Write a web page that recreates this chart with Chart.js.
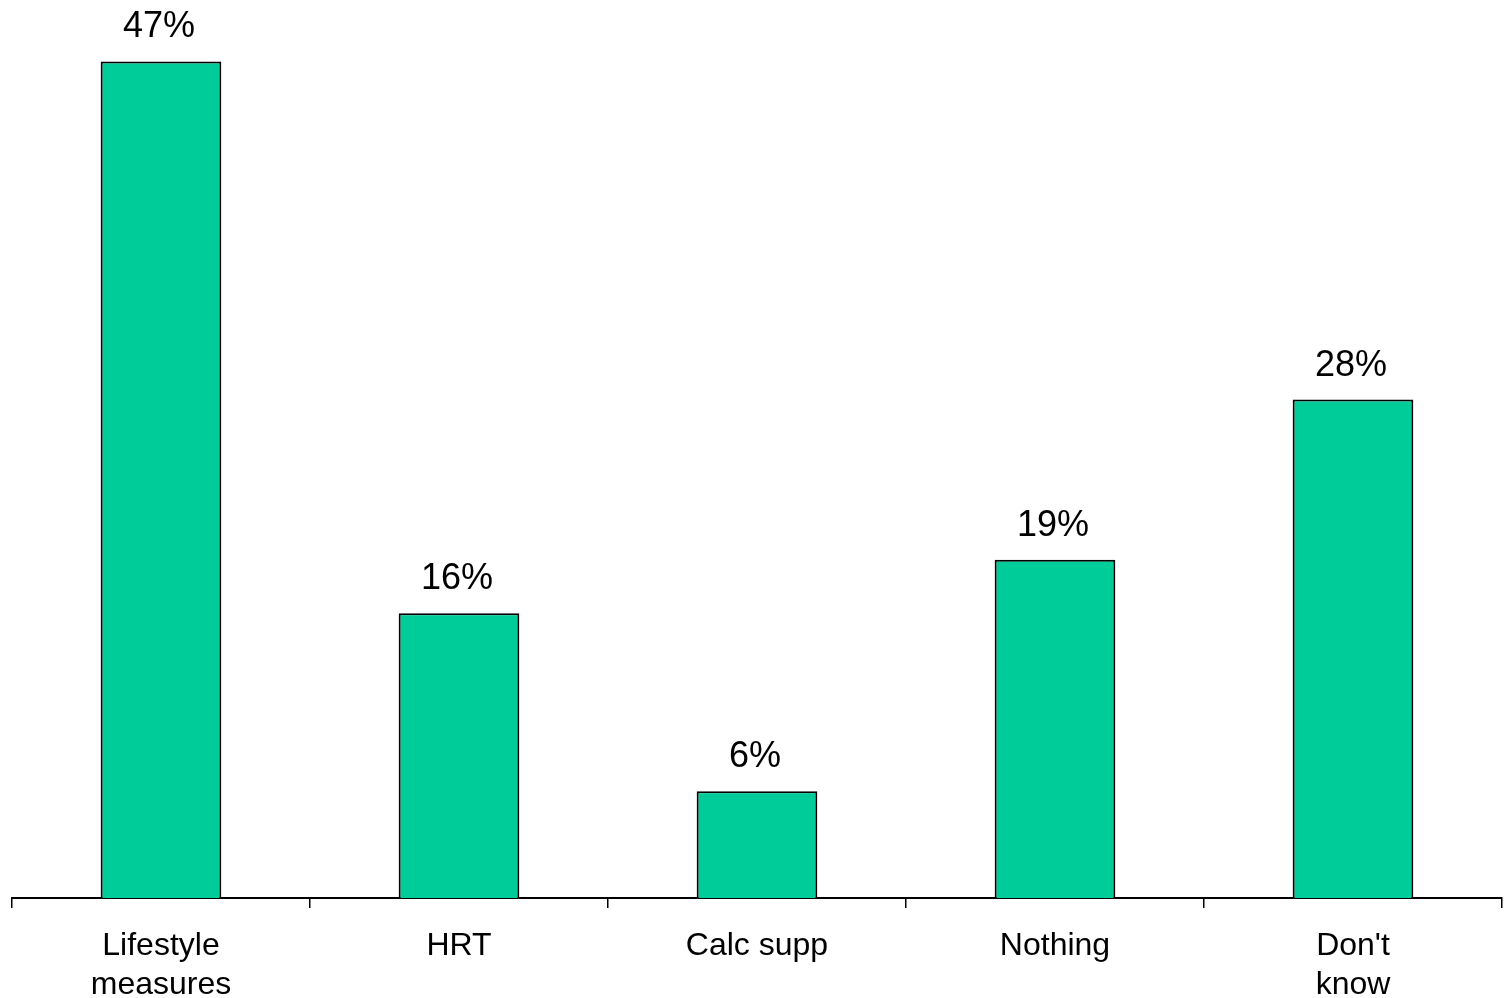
<!DOCTYPE html>
<html>
<head>
<meta charset="utf-8">
<script src="https://cdn.jsdelivr.net/npm/chart.js@4"></script>
<style>
  html, body { margin: 0; padding: 0; background: #fff; }
  #wrap { width: 1508px; height: 998px; }
</style>
</head>
<body>
<div id="wrap"><canvas id="treatmentChart"></canvas></div>
<script>
const categories = [['Lifestyle', 'measures'], 'HRT', 'Calc supp', 'Nothing', ["Don't", 'know']];
const percentValues = [47, 16, 6, 19, 28];

// draws the "47%" style labels above each bar
const valueLabels = {
    id: 'valueLabels',
    afterDatasetsDraw(chart) {
        const ctx = chart.ctx;
        const meta = chart.getDatasetMeta(0);
        ctx.save();
        ctx.font = '36px "Liberation Sans", Arial, sans-serif';
        ctx.fillStyle = '#000';
        ctx.textAlign = 'center';
        ctx.textBaseline = 'alphabetic';
        meta.data.forEach(function (bar, i) {
            ctx.fillText(percentValues[i] + '%', bar.x - 2, bar.y - 24);
        });
        ctx.restore();
    }
};

document.addEventListener('DOMContentLoaded', function () {
    const ctx = document.getElementById('treatmentChart').getContext('2d');
    new Chart(ctx, {
        type: 'bar',
        data: {
            labels: categories,
            datasets: [{
                data: percentValues,
                backgroundColor: '#00CC99',
                borderColor: '#000',
                borderWidth: 2,
                barPercentage: 0.405,
                categoryPercentage: 1
            }]
        },
        plugins: [valueLabels],
        options: {
            responsive: true,
            maintainAspectRatio: false,
            animation: false,
            layout: { padding: { top: 8, left: 12, right: 6, bottom: -26 } },
            plugins: {
                legend: { display: false },
                tooltip: { enabled: false }
            },
            scales: {
                x: {
                    grid: {
                        offset: true,
                        drawOnChartArea: false,
                        tickLength: 10,
                        color: '#000',
                        lineWidth: 1.5
                    },
                    border: { color: '#000', width: 2 },
                    ticks: {
                        color: '#000',
                        padding: 19,
                        maxRotation: 0,
                        autoSkip: false,
                        font: { family: '"Liberation Sans", Arial, sans-serif', size: 32, lineHeight: 1.22 }
                    }
                },
                y: {
                    display: false,
                    min: 0,
                    max: 50
                }
            }
        }
    });
});
</script>
</body>
</html>
